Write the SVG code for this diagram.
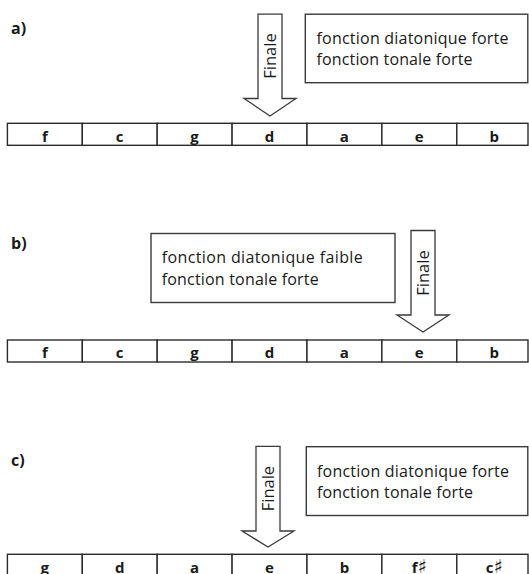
<svg xmlns="http://www.w3.org/2000/svg" width="529" height="574" viewBox="0 0 529 574">
  <style>
    .bg { fill: #ffffff; }
    .cell { fill: #ffffff; stroke: #2b2b2b; stroke-width: 1.4; }
    .box { fill: #ffffff; stroke: #3a3a3a; stroke-width: 1.4; }
    .arrow { fill: #ffffff; stroke: #3a3a3a; stroke-width: 1.3; stroke-linejoin: miter; }
    .lbl { font-family: "Open Sans", "Liberation Sans", sans-serif; font-weight: bold; font-size: 16px; fill: #1a1a1a; }
    .note { font-family: "Open Sans", "DejaVu Sans", sans-serif; font-size: 16px; fill: #1a1a1a; }
    .fin { font-family: "Open Sans", "DejaVu Sans", sans-serif; font-size: 16.5px; fill: #1a1a1a; text-anchor: middle; }
    .key { font-family: "Open Sans", "Liberation Sans", sans-serif; font-weight: bold; font-size: 15px; fill: #1a1a1a; text-anchor: middle; }
    .sharp { font-family: "DejaVu Sans", sans-serif; font-weight: normal; font-size: 19px; }
  </style>
  <rect class="bg" x="0" y="0" width="529" height="574"/>

  <!-- ===== a) ===== -->
  <g id="label-a"><text class="lbl" x="11" y="34">a)</text></g>
  <g id="box-a">
    <rect class="box" x="305.3" y="14.2" width="222.5" height="68.5"/>
    <text class="note" x="316.5" y="44" textLength="192">fonction diatonique forte</text>
    <text class="note" x="316.5" y="65" textLength="156">fonction tonale forte</text>
  </g>
  <g id="arrow-a">
    <path class="arrow" d="M258,14.2 H282 V98.5 H296 L270,116 L244,98.5 H258 Z"/>
    <text class="fin" transform="translate(276,56) rotate(-90)">Finale</text>
  </g>
  <g id="row-a">
    <rect class="cell" x="7.4" y="123.3" width="74.9" height="22"/>
    <rect class="cell" x="82.3" y="123.3" width="74.9" height="22"/>
    <rect class="cell" x="157.2" y="123.3" width="74.9" height="22"/>
    <rect class="cell" x="232.1" y="123.3" width="74.9" height="22"/>
    <rect class="cell" x="307" y="123.3" width="74.9" height="22"/>
    <rect class="cell" x="381.9" y="123.3" width="74.9" height="22"/>
    <rect class="cell" x="456.8" y="123.3" width="71.2" height="22"/>
    <text class="key" x="44.8" y="141.5">f</text>
    <text class="key" x="119.7" y="141.5">c</text>
    <text class="key" x="194.6" y="141.5">g</text>
    <text class="key" x="269.5" y="141.5">d</text>
    <text class="key" x="344.4" y="141.5">a</text>
    <text class="key" x="419.3" y="141.5">e</text>
    <text class="key" x="494.2" y="141.5">b</text>
  </g>

  <!-- ===== b) ===== -->
  <g id="label-b"><text class="lbl" x="11" y="249">b)</text></g>
  <g id="box-b">
    <rect class="box" x="151" y="233.5" width="244" height="69"/>
    <text class="note" x="161.7" y="263" textLength="201">fonction diatonique faible</text>
    <text class="note" x="161.7" y="285" textLength="157">fonction tonale forte</text>
  </g>
  <g id="arrow-b">
    <path class="arrow" d="M411,230.5 H435 V315 H449 L423,332 L397,315 H411 Z"/>
    <text class="fin" transform="translate(429,273) rotate(-90)">Finale</text>
  </g>
  <g id="row-b">
    <rect class="cell" x="7.4" y="340" width="74.9" height="22"/>
    <rect class="cell" x="82.3" y="340" width="74.9" height="22"/>
    <rect class="cell" x="157.2" y="340" width="74.9" height="22"/>
    <rect class="cell" x="232.1" y="340" width="74.9" height="22"/>
    <rect class="cell" x="307" y="340" width="74.9" height="22"/>
    <rect class="cell" x="381.9" y="340" width="74.9" height="22"/>
    <rect class="cell" x="456.8" y="340" width="71.2" height="22"/>
    <text class="key" x="44.8" y="358.2">f</text>
    <text class="key" x="119.7" y="358.2">c</text>
    <text class="key" x="194.6" y="358.2">g</text>
    <text class="key" x="269.5" y="358.2">d</text>
    <text class="key" x="344.4" y="358.2">a</text>
    <text class="key" x="419.3" y="358.2">e</text>
    <text class="key" x="494.2" y="358.2">b</text>
  </g>

  <!-- ===== c) ===== -->
  <g id="label-c"><text class="lbl" x="11" y="466">c)</text></g>
  <g id="box-c">
    <rect class="box" x="306.3" y="446.7" width="221.5" height="68.8"/>
    <text class="note" x="317" y="476.5" textLength="192">fonction diatonique forte</text>
    <text class="note" x="317" y="497.5" textLength="156">fonction tonale forte</text>
  </g>
  <g id="arrow-c">
    <path class="arrow" d="M256,446.3 H280 V531 H294 L268,547 L242,531 H256 Z"/>
    <text class="fin" transform="translate(274,488.6) rotate(-90)">Finale</text>
  </g>
  <g id="row-c">
    <rect class="cell" x="7.4" y="554.3" width="74.9" height="22"/>
    <rect class="cell" x="82.3" y="554.3" width="74.9" height="22"/>
    <rect class="cell" x="157.2" y="554.3" width="74.9" height="22"/>
    <rect class="cell" x="232.1" y="554.3" width="74.9" height="22"/>
    <rect class="cell" x="307" y="554.3" width="74.9" height="22"/>
    <rect class="cell" x="381.9" y="554.3" width="74.9" height="22"/>
    <rect class="cell" x="456.8" y="554.3" width="71.2" height="22"/>
    <text class="key" x="44.8" y="572.5">g</text>
    <text class="key" x="119.7" y="572.5">d</text>
    <text class="key" x="194.6" y="572.5">a</text>
    <text class="key" x="269.5" y="572.5">e</text>
    <text class="key" x="344.4" y="572.5">b</text>
    <text class="key" x="419.3" y="572.5">f<tspan class="sharp">♯</tspan></text>
    <text class="key" x="494.2" y="572.5">c<tspan class="sharp">♯</tspan></text>
  </g>

  <g id="connectors"></g>
</svg>
